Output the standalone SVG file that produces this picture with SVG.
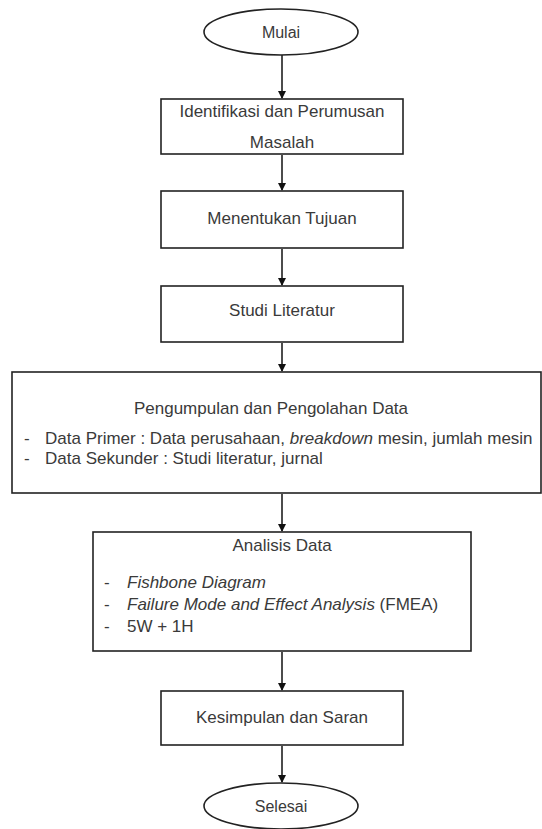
<svg xmlns="http://www.w3.org/2000/svg" width="542" height="829" viewBox="0 0 542 829">
<defs>
<marker id="ah" markerWidth="8" markerHeight="10" refX="7" refY="4" orient="auto" markerUnits="userSpaceOnUse">
<path d="M0,0 L8,4 L0,8 Z" fill="#111"/>
</marker>
<style>
.box{fill:#fff;stroke:#222;stroke-width:1.6}
.t{font-family:"Liberation Sans",Arial,sans-serif;font-size:17px;fill:#3a3a3a}
.c{text-anchor:middle}
.i{font-style:italic}
.con{stroke:#111;stroke-width:1.5;fill:none;marker-end:url(#ah)}
</style>
</defs>
<rect width="542" height="829" fill="#fff"/>
<g id="connectors">
<line class="con" x1="282" y1="55" x2="282" y2="98"/>
<line class="con" x1="282" y1="155" x2="282" y2="190"/>
<line class="con" x1="282" y1="249" x2="282" y2="285"/>
<line class="con" x1="282" y1="343" x2="282" y2="371"/>
<line class="con" x1="282" y1="494" x2="282" y2="531"/>
<line class="con" x1="282" y1="652" x2="282" y2="690"/>
<line class="con" x1="282" y1="746" x2="282" y2="782"/>
</g>
<g id="mulai">
<ellipse class="box" cx="281" cy="32" rx="77" ry="23"/>
<text class="t c" x="281" y="38" style="font-size:16px">Mulai</text>
</g>
<g id="identifikasi">
<rect class="box" x="161" y="99" width="242" height="55"/>
<text class="t c" x="282" y="117">Identifikasi dan Perumusan</text>
<text class="t c" x="282" y="148">Masalah</text>
</g>
<g id="tujuan">
<rect class="box" x="161" y="191" width="242" height="57"/>
<text class="t c" x="282" y="224">Menentukan Tujuan</text>
</g>
<g id="literatur">
<rect class="box" x="161" y="286" width="242" height="56"/>
<text class="t c" x="282" y="316">Studi Literatur</text>
</g>
<g id="pengumpulan">
<rect class="box" x="12" y="372" width="529" height="121"/>
<text class="t c" x="271" y="414">Pengumpulan dan Pengolahan Data</text>
<text class="t" x="24" y="444">-</text>
<text class="t" x="45" y="444">Data Primer : Data perusahaan, <tspan class="i">breakdown</tspan> mesin, jumlah mesin</text>
<text class="t" x="24" y="464">-</text>
<text class="t" x="45" y="464">Data Sekunder : Studi literatur, jurnal</text>
</g>
<g id="analisis">
<rect class="box" x="93" y="532" width="378" height="119"/>
<text class="t c" x="282" y="551">Analisis Data</text>
<text class="t" x="104" y="588">-</text>
<text class="t i" x="127" y="588">Fishbone Diagram</text>
<text class="t" x="104" y="610">-</text>
<text class="t" x="127" y="610"><tspan class="i">Failure Mode and Effect Analysis</tspan> (FMEA)</text>
<text class="t" x="104" y="632">-</text>
<text class="t" x="127" y="632">5W + 1H</text>
</g>
<g id="kesimpulan">
<rect class="box" x="161" y="691" width="242" height="54"/>
<text class="t c" x="282" y="723">Kesimpulan dan Saran</text>
</g>
<g id="selesai">
<ellipse class="box" cx="281" cy="806" rx="77" ry="23"/>
<text class="t c" x="281" y="812" style="font-size:16px">Selesai</text>
</g>
</svg>
